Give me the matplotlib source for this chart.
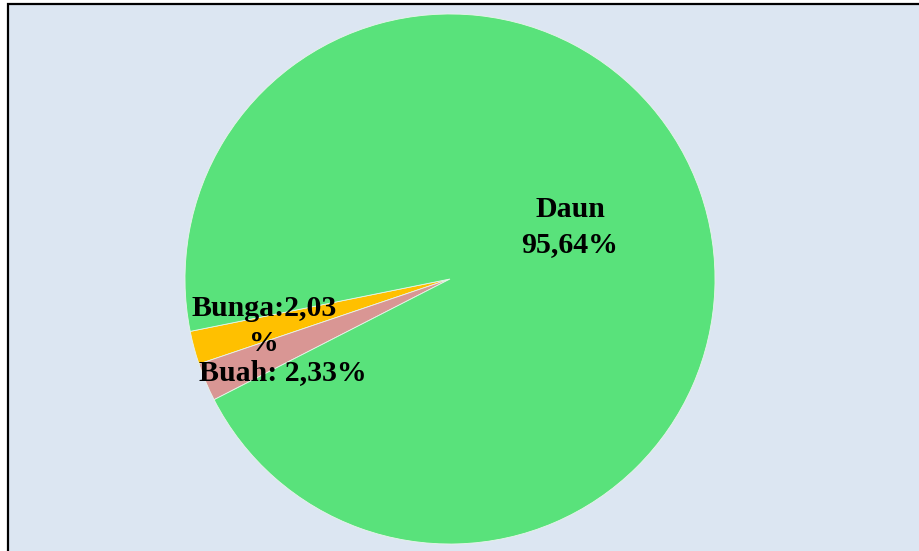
import matplotlib
matplotlib.use("Agg")
import matplotlib.pyplot as plt
import matplotlib.patches as mpatches

# data (percent), drawn counter-clockwise in this order
categories = ["Bunga", "Buah", "Daun"]
values = [2.03, 2.33, 95.64]
colors = ["#FFC000", "#D99694", "#59E27B"]
label_fmt = ["{name}:{val}\n%", "{name}: {val}%", "{name}\n{val}%"]


def fmt_pct(v):
    return f"{v:.2f}".replace(".", ",")


W, H = 920, 551
fig = plt.figure(figsize=(W / 100, H / 100), dpi=100, facecolor="white")

# chart area background with frame (runs off the right/bottom edge)
fig.patches.append(mpatches.Rectangle(
    (8 / W, -0.05), 1.1, (H - 4) / H + 0.05, transform=fig.transFigure,
    fc="#DCE6F2", ec="black", lw=1.6, zorder=-10))

# pie: centre (450, 279) px, radius 265 px
cx, cy, r = 450, 279, 265
ax = fig.add_axes([(cx - r) / W, (H - cy - r) / H, 2 * r / W, 2 * r / H])
ax.set_facecolor("none")
wedges, _ = ax.pie(values, colors=colors, startangle=191.4, counterclock=True,
                   wedgeprops=dict(lw=0.6, ec="#E8F5EA"))
ax.set_xlim(-1, 1)
ax.set_ylim(-1, 1)
ax.set_aspect("equal")
ax.axis("off")
for w in wedges:
    w.set_clip_on(False)

# label positions (px, last-line baseline centre)
label_pos = [(264, 351), (283, 380), (570, 252)]
font = dict(family=["Liberation Serif", "DejaVu Serif"], fontweight="bold",
            fontsize=21.5, color="black")
for name, val, tmpl, (px, py) in zip(categories, values, label_fmt, label_pos):
    txt = tmpl.format(name=name, val=fmt_pct(val))
    ax.text((px - cx) / r, (cy - py) / r, txt, ha="center", va="baseline",
            multialignment="center", linespacing=1.4, **font)

fig.savefig("out.png", dpi=100, facecolor="white")
